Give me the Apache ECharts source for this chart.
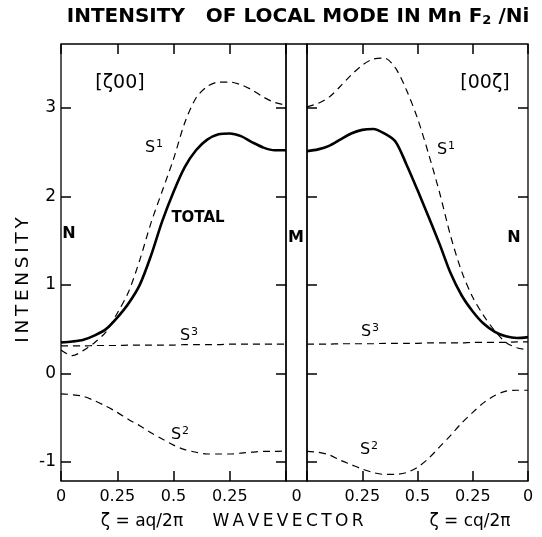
<!DOCTYPE html>
<html>
<head>
<meta charset="utf-8">
<script src="https://cdn.jsdelivr.net/npm/echarts@6/dist/echarts.min.js"></script>
<style>html,body{margin:0;padding:0;background:#fff;}#c{width:542px;height:537px;}</style>
</head>
<body>
<div id="c"></div>
<script>
// sample positions along each panel (0 = left edge, 1 = right edge)
const xs = [0,0.05,0.1,0.15,0.2,0.25,0.3,0.35,0.4,0.45,0.5,0.55,0.6,0.65,0.7,0.75,0.8,0.85,0.9,0.95,1.0];
const leftTickLabels = ['0','0.25','0.5','0.25',''];
const rightTickLabels = ['','0.25','0.5','0.25','0'];
const midLabel = ['0'];
const yTicks = [-1,0,1,2,3];

// [ζ00] panel
const totalLeft = [0.35,0.36,0.38,0.43,0.50,0.63,0.79,1.00,1.33,1.72,2.05,2.33,2.52,2.64,2.70,2.71,2.68,2.61,2.55,2.52,2.52];
const s1Left    = [0.265,0.20,0.26,0.35,0.47,0.68,0.92,1.28,1.70,2.06,2.42,2.83,3.11,3.24,3.29,3.29,3.26,3.20,3.12,3.06,3.03];
const s3Left    = [0.31,0.31,0.31,0.315,0.315,0.315,0.32,0.32,0.32,0.32,0.32,0.325,0.325,0.325,0.325,0.33,0.33,0.33,0.33,0.33,0.33];
const s2Left    = [-0.23,-0.24,-0.26,-0.31,-0.37,-0.44,-0.52,-0.59,-0.67,-0.74,-0.81,-0.86,-0.89,-0.91,-0.91,-0.91,-0.90,-0.89,-0.88,-0.88,-0.875];

// [00ζ] panel
const totalRight = [2.51,2.53,2.57,2.64,2.71,2.75,2.76,2.71,2.62,2.36,2.07,1.77,1.46,1.13,0.88,0.70,0.56,0.47,0.42,0.40,0.41];
const s1Right    = [3.01,3.05,3.12,3.24,3.37,3.48,3.55,3.56,3.45,3.20,2.88,2.48,2.04,1.55,1.15,0.86,0.65,0.48,0.35,0.29,0.265];
const s3Right    = [0.33,0.33,0.33,0.335,0.335,0.335,0.335,0.34,0.34,0.34,0.34,0.345,0.345,0.345,0.345,0.35,0.35,0.35,0.35,0.355,0.355];
const s2Right    = [-0.88,-0.89,-0.92,-0.98,-1.03,-1.08,-1.12,-1.14,-1.14,-1.12,-1.06,-0.96,-0.83,-0.70,-0.56,-0.44,-0.33,-0.25,-0.20,-0.19,-0.19];

const FONT = 'DejaVu Sans';
const pts = arr => xs.map((x,i)=>[x, arr[i]]);

const tick = {show:true, inside:true, length:10, lineStyle:{color:'#000', width:1.5}};
function xAx(grid, pos, labels){
  return {type:'value', gridIndex:grid, position:pos, min:0, max:1, interval:0.25,
    axisLine:{show:false, onZero:false}, splitLine:{show:false}, axisTick:tick,
    axisLabel: labels ? {show:true, margin:8, color:'#000', fontFamily:FONT, fontSize:16,
      formatter:(v)=>labels[Math.round(v/0.25)]} : {show:false}};
}
function yAx(grid, pos, showLabel){
  return {type:'value', gridIndex:grid, position:pos, min:-1.215, max:3.72,
    axisLine:{show:false, onZero:false}, splitLine:{show:false},
    axisTick:Object.assign({customValues:yTicks}, tick),
    axisLabel: showLabel ? {show:true, customValues:yTicks, margin:5, color:'#000', fontFamily:FONT, fontSize:17} : {show:false}};
}
const solid = {color:'#000', width:2.6, type:'solid'};
const dash = {color:'#000', width:1.2, type:[7,5]};
function ser(xi, yi, arr, style){
  return {type:'line', xAxisIndex:xi, yAxisIndex:yi, data:pts(arr), showSymbol:false, symbol:'none',
    smooth:0.3, lineStyle:style, silent:true};
}
function txt(x,y,text,size,weight,rot){
  return {type:'text', x:x, y:y, rotation:rot||0, style:{text:text, fill:'#000', font:(weight||'normal')+' '+size+'px "'+FONT+'"', align:'center', verticalAlign:'middle'}};
}
function sLabel(x,y,n){
  return {type:'text', x:x, y:y, style:{text:'{a|S}{b|'+n+'}', align:'center', verticalAlign:'middle',
    rich:{a:{fontFamily:FONT, fontSize:16, color:'#000'}, b:{fontFamily:FONT, fontSize:11, color:'#000', verticalAlign:'top', padding:[0,0,8,1]}}}};
}
const sp = s => s.split('').join('\u2009');

const chart = echarts.init(document.getElementById('c'), null, {renderer:'canvas'});
chart.setOption({
  animation:false,
  backgroundColor:'#fff',
  grid:[
    {left:61, top:44, width:225, height:437, show:true, borderColor:'#000', borderWidth:1.3, backgroundColor:'transparent'},
    {left:286, top:44, width:21, height:437, show:true, borderColor:'#000', borderWidth:1.3, backgroundColor:'transparent'},
    {left:307, top:44, width:221, height:437, show:true, borderColor:'#000', borderWidth:1.3, backgroundColor:'transparent'}
  ],
  xAxis:[
    xAx(0,'bottom',leftTickLabels),
    xAx(0,'top',null),
    {type:'category', gridIndex:1, position:'bottom', data:midLabel, axisLine:{show:false, onZero:false}, axisTick:{show:false},
      axisLabel:{show:true, margin:8, color:'#000', fontFamily:FONT, fontSize:16}},
    xAx(2,'bottom',rightTickLabels),
    xAx(2,'top',null)
  ],
  yAxis:[
    yAx(0,'left',true),
    yAx(0,'right',false),
    {type:'value', gridIndex:1, show:false, min:-1.215, max:3.72},
    yAx(2,'left',false),
    yAx(2,'right',false)
  ],
  series:[
    ser(0,0,totalLeft,solid), ser(0,0,s1Left,dash), ser(0,0,s3Left,dash), ser(0,0,s2Left,dash),
    ser(3,3,totalRight,solid), ser(3,3,s1Right,dash), ser(3,3,s3Right,dash), ser(3,3,s2Right,dash)
  ],
  graphic:[
    {type:'text', x:298, y:17, style:{text:'{t|INTENSITY   OF LOCAL MODE IN Mn F}{s|2}{t| /Ni}', align:'center', verticalAlign:'middle',
      rich:{t:{fontFamily:FONT, fontSize:20, fontWeight:'bold', color:'#000'}, s:{fontFamily:FONT, fontSize:13, fontWeight:'bold', color:'#000', verticalAlign:'bottom', padding:[8,0,0,0]}}}},
    txt(23,280,sp('INTENSITY'),18.5,'normal',Math.PI/2),
    txt(120,83,'[ζ00]',19),
    txt(485,83,'[00ζ]',19),
    txt(69,234,'N',16,'bold'),
    txt(296,238,'M',16,'bold'),
    txt(514,238,'N',16,'bold'),
    txt(198,218,'TOTAL',15,'bold'),
    sLabel(154,148,'1'),
    sLabel(446,150,'1'),
    sLabel(189,336,'3'),
    sLabel(180,435,'2'),
    sLabel(370,332,'3'),
    sLabel(369,450,'2'),
    txt(142,522,'ζ = aq/2π',17),
    txt(288,522,sp('WAVEVECTOR'),17),
    txt(470,522,'ζ = cq/2π',17)
  ]
});
</script>
</body>
</html>
